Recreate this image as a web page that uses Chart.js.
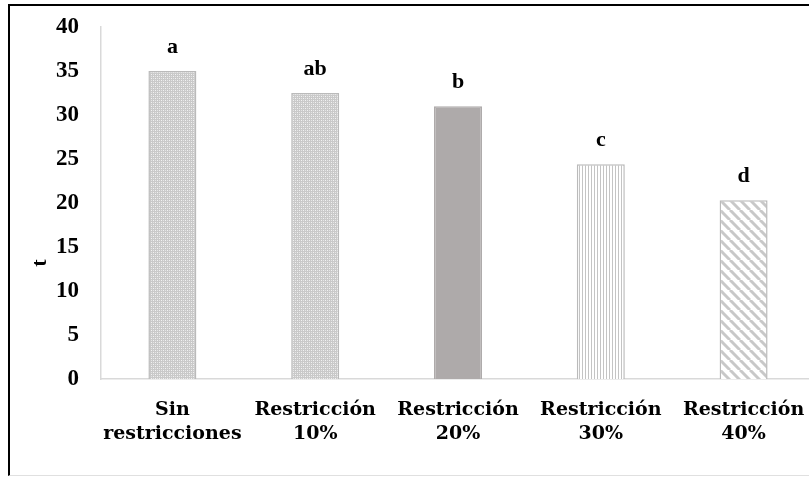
<!DOCTYPE html>
<html>
<head>
<meta charset="utf-8">
<script src="https://cdn.jsdelivr.net/npm/chart.js@4.4.1/dist/chart.umd.min.js"></script>
<style>
  html, body { margin: 0; padding: 0; background: #fff; overflow: hidden; }
  #frame {
    position: absolute; left: 8px; top: 4px; width: 820px; height: 469px;
    border-left: 2px solid #000; border-top: 2px solid #000; border-bottom: 1px solid #e0e0e0;
  }
  #wrap { position: absolute; left: 0; top: 0; width: 830px; height: 478px; }
</style>
</head>
<body>
<div id="frame"></div>
<div id="wrap"><canvas id="chart"></canvas></div>
<script>
// Données
const categories = [['Sin', 'restricciones'], ['Restricción', '10%'], ['Restricción', '20%'], ['Restricción', '30%'], ['Restricción', '40%']];
const values = [35.0, 32.5, 31.0, 24.4, 20.3];
const letters = ['a', 'ab', 'b', 'c', 'd'];
const yTicks = [0, 5, 10, 15, 20, 25, 30, 35, 40];

const SERIF = 'Liberation Serif';
const WIDE = 'DejaVu Serif';

// Motifs de remplissage
function makePattern(w, h, draw) {
    const c = document.createElement('canvas');
    c.width = w; c.height = h;
    const g = c.getContext('2d');
    draw(g);
    return document.createElement('canvas').getContext('2d').createPattern(c, 'repeat');
}
const dotted = makePattern(4, 4, g => {
    g.fillStyle = '#c9c9c9'; g.fillRect(0, 0, 4, 4);
    g.fillStyle = '#f2f2f2'; g.fillRect(1, 0, 1, 1); g.fillRect(3, 2, 1, 1);
    g.fillStyle = '#e4e4e4'; g.fillRect(1, 2, 1, 1); g.fillRect(3, 0, 1, 1);
});
const vertical = makePattern(3, 4, g => {
    g.fillStyle = '#ffffff'; g.fillRect(0, 0, 3, 4);
    g.fillStyle = '#c4c4c4'; g.fillRect(0, 0, 1, 4);
});
const diagonal = makePattern(10, 10, g => {
    g.fillStyle = '#ffffff'; g.fillRect(0, 0, 10, 10);
    g.strokeStyle = '#c8c8c8'; g.lineWidth = 3;
    for (let k = -10; k <= 10; k += 10) {
        g.beginPath(); g.moveTo(k, 0); g.lineTo(k + 10, 10); g.stroke();
    }
});
const fills = [dotted, dotted, '#aeaaaa', vertical, diagonal];

// Lettres au-dessus des barres + titre de l'axe
const annotations = {
    id: 'annotations',
    afterDatasetsDraw(chart) {
        const ctx = chart.ctx;
        const meta = chart.getDatasetMeta(0);
        ctx.save();
        ctx.fillStyle = '#000';
        ctx.font = 'bold 22px "' + SERIF + '"';
        ctx.textAlign = 'center';
        ctx.textBaseline = 'middle';
        meta.data.forEach((bar, i) => {
            ctx.fillText(letters[i], bar.x, bar.y - 24);
        });
        ctx.translate(40, 263);
        ctx.rotate(-Math.PI / 2);
        ctx.fillText('t', 0, 0);
        ctx.restore();
    }
};

new Chart(document.getElementById('chart').getContext('2d'), {
    type: 'bar',
    data: {
        labels: categories,
        datasets: [{
            data: values,
            backgroundColor: fills,
            borderColor: ['#bababa', '#bababa', '#aeaaaa', '#bababa', '#bababa'],
            borderWidth: 1.5,
            barPercentage: 0.336,
            categoryPercentage: 1
        }]
    },
    options: {
        responsive: true,
        maintainAspectRatio: false,
        animation: false,
        layout: { padding: { top: 27, right: 15, left: 0, bottom: 0 } },
        plugins: {
            legend: { display: false },
            tooltip: { enabled: false }
        },
        scales: {
            x: {
                grid: { display: false, drawTicks: false },
                border: { display: true, color: '#d9d9d9', width: 1.5 },
                ticks: {
                    color: '#000',
                    font: { family: WIDE, size: 19, weight: 'bold', lineHeight: 1.26 },
                    padding: 19,
                    maxRotation: 0,
                    autoSkip: false
                },
                afterFit(s) { s.height = 99; }
            },
            y: {
                min: 0,
                max: 40,
                grid: { display: false, drawTicks: false },
                border: { display: true, color: '#d9d9d9', width: 1.5 },
                afterBuildTicks(s) { s.ticks = yTicks.map(v => ({ value: v })); },
                ticks: {
                    color: '#000',
                    font: { family: SERIF, size: 23, weight: 'bold' },
                    padding: 22
                },
                afterFit(s) { s.width = 101; s.paddingTop = 0; s.paddingBottom = 0; }
            }
        }
    },
    plugins: [annotations]
});
</script>
</body>
</html>
